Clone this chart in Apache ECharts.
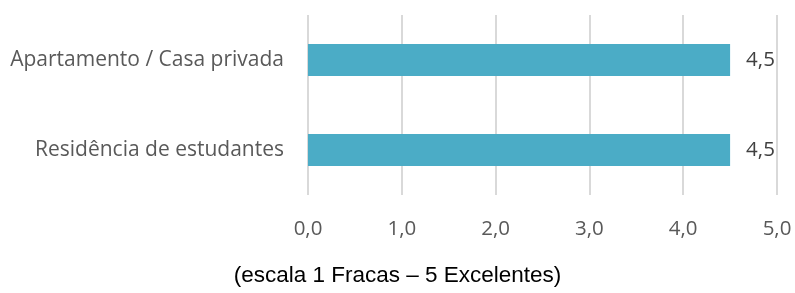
<!DOCTYPE html>
<html>
<head>
<meta charset="utf-8">
<script src="https://cdn.jsdelivr.net/npm/echarts@6/dist/echarts.min.js"></script>
<style>
  html, body { margin: 0; padding: 0; background: #fff; }
  #chart { width: 795px; height: 293px; }
</style>
</head>
<body>
<div id="chart"></div>
<script>
// Avaliação do alojamento (escala 1-5)
const categories = ['Apartamento / Casa privada', 'Residência de estudantes'];
const values = [4.5, 4.5];
const tickLabels = ['0,0', '1,0', '2,0', '3,0', '4,0', '5,0'];
const caption = '(escala 1 Fracas \u2013 5 Excelentes)';

const chart = echarts.init(document.getElementById('chart'));

const option = {
    animation: false,
    grid: { left: 308, right: 18, top: 15, bottom: 98, containLabel: false },
    title: {
        text: caption,
        left: 'center',
        bottom: 1,
        textStyle: { fontFamily: 'Liberation Sans', fontSize: 22.5, fontWeight: 'normal', color: '#000' }
    },
    xAxis: {
        type: 'value',
        min: 0,
        max: 5,
        interval: 1,
        axisLine: { show: false },
        axisTick: { show: false },
        axisLabel: {
            margin: 24,
            color: '#595959',
            fontFamily: 'Open Sans',
            fontSize: 20.5,
            formatter: function(v) { return tickLabels[Math.round(v)]; }
        },
        splitLine: { lineStyle: { color: '#d9d9d9', width: 2 } }
    },
    yAxis: {
        type: 'category',
        inverse: true,
        data: categories,
        axisLine: { show: false },
        axisTick: { show: false },
        axisLabel: {
            margin: 24,
            color: '#595959',
            fontFamily: 'Open Sans',
            fontSize: 21
        }
    },
    series: [{
        type: 'bar',
        data: values,
        barWidth: 32,
        itemStyle: { color: '#4bacc6' },
        label: {
            show: true,
            position: 'right',
            distance: 16,
            color: '#404040',
            fontFamily: 'Open Sans',
            fontSize: 20.5,
            formatter: function(p) { return p.value.toFixed(1).replace('.', ','); }
        }
    }]
};

chart.setOption(option);
</script>
</body>
</html>
